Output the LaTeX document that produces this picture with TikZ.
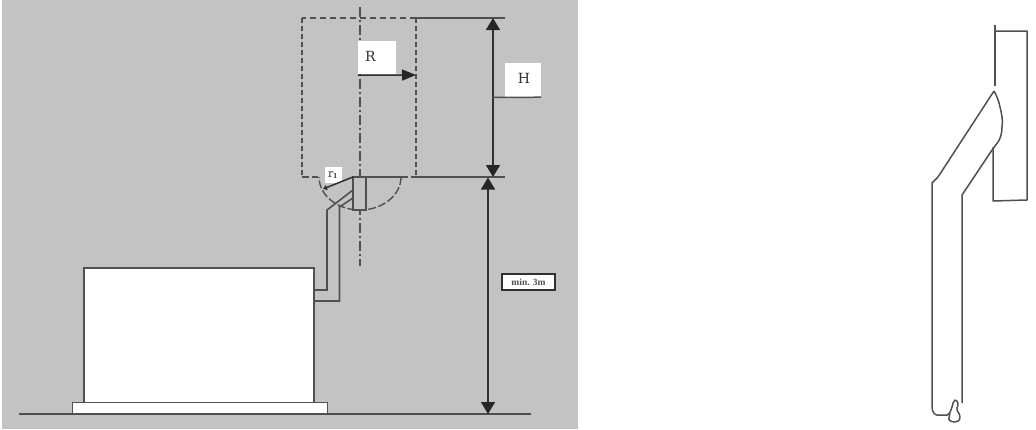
\documentclass[tikz,border=0pt]{standalone}
\usepackage{fontspec}
\setmainfont{Liberation Serif}
\newfontfamily\labelfont{DejaVu Serif}
\usetikzlibrary{arrows.meta}
\definecolor{panel}{HTML}{C3C3C3}
\definecolor{ink}{HTML}{505050}
\definecolor{dark}{HTML}{303030}
\tikzset{
  x=1pt,y=-1pt,
  ln/.style={draw=ink,line width=1.6pt,line join=miter},
  thin ln/.style={draw=ink,line width=1.5pt},
  dash h/.style={draw=ink,line width=1.5pt,dash pattern=on 6.5pt off 3.5pt},
  dash v/.style={draw=ink,line width=1.8pt,dash pattern=on 4.5pt off 3.5pt},
  axis ln/.style={draw=ink,line width=1.3pt,dash pattern=on 10pt off 3pt on 2pt off 3pt},
  dim/.style={draw=dark,line width=1.5pt,{Triangle[length=12pt,width=14pt,color=black!85]}-{Triangle[length=12pt,width=14pt,color=black!85]}},
  single/.style={draw=dark,line width=1.6pt,-{Triangle[length=14pt,width=11pt,color=black!85]}},
  tag/.style={fill=white,inner sep=0pt,font=\labelfont,text=dark},
  sketch/.style={draw=ink,line width=1.5pt,line join=round},
}
\begin{document}
\begin{tikzpicture}
\useasboundingbox (0,0) rectangle (1036,429);
\fill[panel] (1.5,0) rectangle (578,429);
% named free ends
\coordinate (gl) at (19,414); \coordinate (gr) at (531,414);
\coordinate (tl) at (416,18); \coordinate (tr) at (505,18);
\coordinate (ml) at (418,177); \coordinate (mr) at (505,177);
\coordinate (ha) at (493,18); \coordinate (hb) at (493,177);
\coordinate (va) at (488,177.5); \coordinate (vb) at (488,414);
\coordinate (rtip) at (416,75);
\coordinate (hk) at (493,97.5);
% unit and base
\node[ln,fill=white,minimum width=230pt,minimum height=135.5pt,inner sep=0pt,anchor=north west] (unit) at (83,267) {};
\node[ln,line width=1.3pt,fill=white,minimum width=255pt,minimum height=11.5pt,inner sep=0pt,anchor=north west] (base) at (72,402) {};
\draw[thin ln] (gl) -- (gr);
% dashed envelope
\draw[dash h] (tl) -- (302,18);
\draw[dash v] (302,18) -- (302,176);
\draw[dash h] (302,177) -- (318,177);
\draw[dash v] (tl) -- (416,177);
\draw[dash h] (401,177) -- (ml);
\draw[ln] (tl) -- (tr);
\draw[thin ln] (ml) -- (mr);
% axis
\draw[axis ln] (360,7) -- (360,266);
% terminal
\draw[ln,fill=panel] (353,177) rectangle (366,210);
% swept radius
\draw[draw=ink,line width=1.4pt,dash pattern=on 8pt off 2.5pt] (401,177) arc[start angle=0,end angle=180,x radius=41,y radius=33];
\draw[ln] (366,177) -- (401,177);
% pipe
\draw[ln] (314,290) -- (327,290) -- (327,210) -- (353,190);
\draw[ln] (314,301) -- (339.5,301) -- (339.5,207) -- (353,198);
% labels
\node[tag,minimum width=38pt,minimum height=33pt] (R) at (377,57.5) {};
\node[tag] at (370.5,56) {\fontsize{14}{14}\selectfont R};
\node[tag,minimum width=36pt,minimum height=34pt] (H) at (523,80) {};
\node[tag] at (524,78) {\fontsize{14}{14}\selectfont H};
\node[tag,minimum width=17pt,minimum height=16pt] (r1) at (333,175) {\fontsize{11}{11}\selectfont r$_{\mathbf 1}$};
\draw[draw=dark,line width=1.5pt,{Triangle[length=4pt,width=5pt]}-] (323,189) -- (353,177);
\draw[single] (R.south west) ++(0,1) -- (rtip);
\draw[dim] (ha) -- (hb);
\draw[thin ln] (hk) -- (H.south east);
\draw[dim] (va) -- (vb);
\node[draw=dark,line width=2pt,fill=white,minimum width=53pt,minimum height=16pt,inner sep=0pt,text=ink] (m) at (528.5,282) {\fontsize{9.5}{9.5}\selectfont\bfseries min. 3m};
% right sketch
\draw[sketch] (995,86) -- (995,25);
\draw[sketch] (996,31) -- (1027,31) -- (1027,200) -- (993,201) -- (993,147);
\draw[sketch] (994,91) .. controls (997,96) and (999,102) .. (1000,107) .. controls (1002,115) and (1003,122) .. (1002,127) .. controls (1002,134) and (1000,139) .. (998,142) -- (992,150) -- (962,195) -- (962,403);
\draw[sketch] (994,91) -- (938,177) -- (932,183) -- (932,407) .. controls (932,412) and (935,415) .. (937,415) -- (947,415) .. controls (950,414) and (951,410) .. (952,407) .. controls (953,404) and (953,401) .. (955,400) .. controls (958,401) and (959,404) .. (957,408) .. controls (956,411) and (960,413) .. (960,417) .. controls (960,421) and (957,422) .. (955,422) .. controls (951,422) and (948,420) .. (949,418) .. controls (949,416) and (950,414) .. (950,413);
\end{tikzpicture}
\end{document}
